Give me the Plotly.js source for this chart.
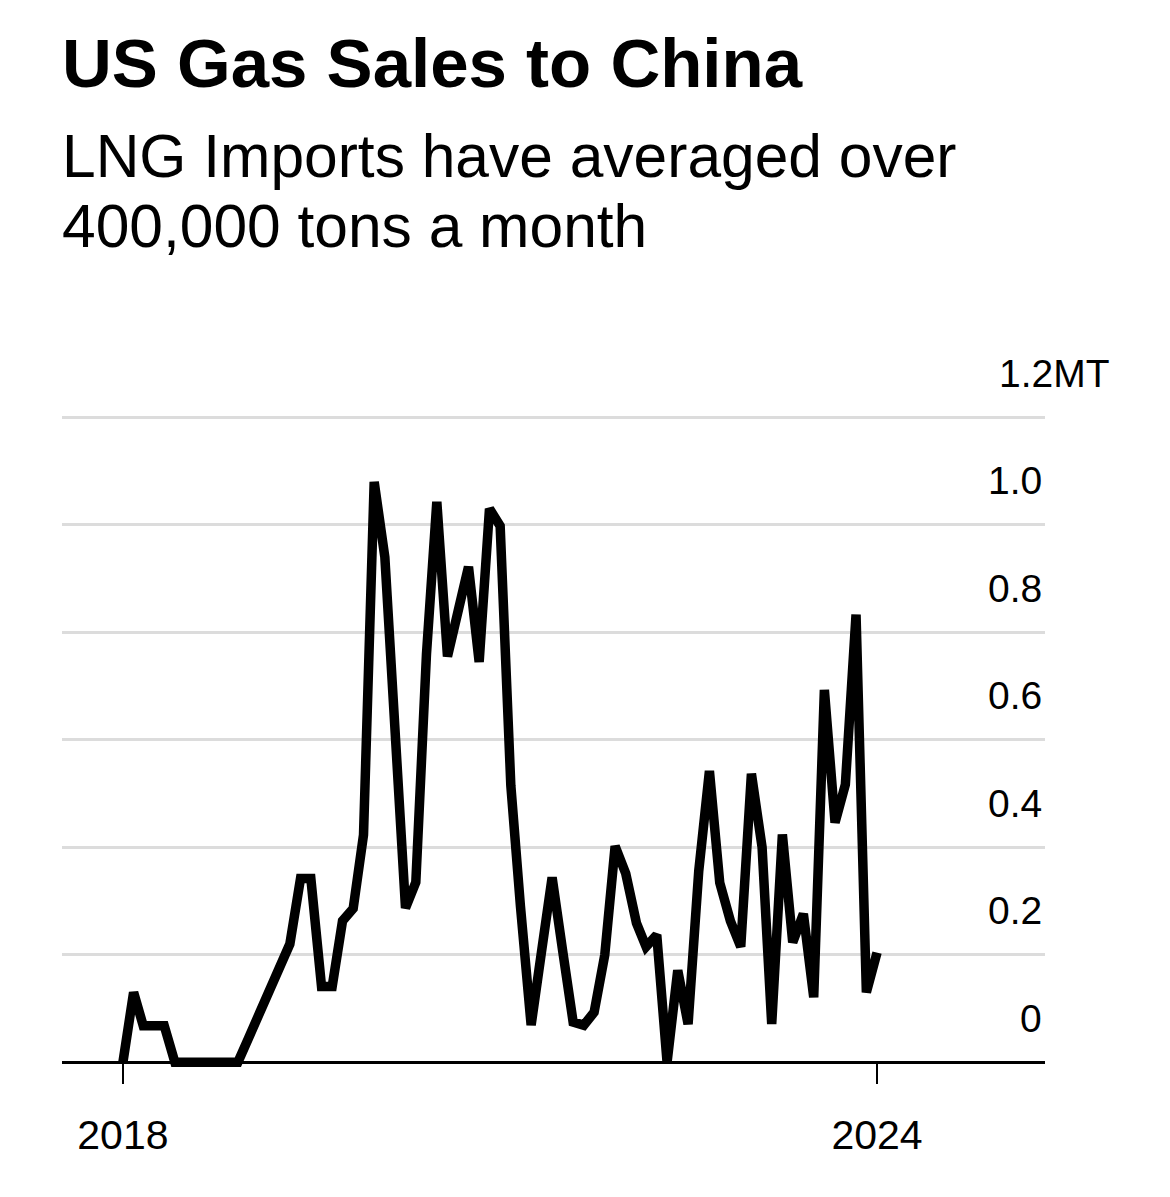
<!DOCTYPE html>
<html>
<head>
<meta charset="utf-8">
<script src="https://cdn.plot.ly/plotly-3.0.1.min.js"></script>
<style>
  html, body { margin: 0; padding: 0; background: #fff; }
  #chart { width: 1170px; height: 1197px; }
</style>
</head>
<body>
<div id="chart"></div>
<script>
// Monthly US LNG exports to China (million tons)
const months = [
  '2018-01-01','2018-02-01','2018-03-01','2018-04-01','2018-05-01','2018-06-01',
  '2018-07-01','2018-08-01','2018-09-01','2018-10-01','2018-11-01','2018-12-01',
  '2019-01-01','2019-02-01','2019-03-01','2019-04-01','2019-05-01','2019-06-01',
  '2019-07-01','2019-08-01','2019-09-01','2019-10-01','2019-11-01','2019-12-01',
  '2020-01-01','2020-02-01','2020-03-01','2020-04-01','2020-05-01','2020-06-01',
  '2020-07-01','2020-08-01','2020-09-01','2020-10-01','2020-11-01','2020-12-01',
  '2021-01-01','2021-02-01','2021-03-01','2021-04-01','2021-05-01','2021-06-01',
  '2021-07-01','2021-08-01','2021-09-01','2021-10-01','2021-11-01','2021-12-01',
  '2022-01-01','2022-02-01','2022-03-01','2022-04-01','2022-05-01','2022-06-01',
  '2022-07-01','2022-08-01','2022-09-01','2022-10-01','2022-11-01','2022-12-01',
  '2023-01-01','2023-02-01','2023-03-01','2023-04-01','2023-05-01','2023-06-01',
  '2023-07-01','2023-08-01','2023-09-01','2023-10-01','2023-11-01','2023-12-01',
  '2024-01-01'
];
const imports = [
  0, 0.13, 0.068, 0.068, 0.068, 0,
  0, 0, 0, 0, 0, 0,
  0.045, 0.09, 0.13, 0.18, 0.22, 0.342,
  0.342, 0.141, 0.141, 0.263, 0.286, 0.423,
  1.08, 0.94, 0.61, 0.287, 0.335, 0.76,
  1.043, 0.755, 0.84, 0.922, 0.745, 1.03,
  0.998, 0.515, 0.29, 0.069, 0.205, 0.344,
  0.21, 0.075, 0.069, 0.093, 0.2, 0.402,
  0.351, 0.259, 0.215, 0.237, 0, 0.171,
  0.071, 0.356, 0.542, 0.334, 0.263, 0.215,
  0.537, 0.4, 0.071, 0.424, 0.223, 0.276,
  0.121, 0.693, 0.446, 0.517, 0.833, 0.13,
  0.204
];
const yTickVals = [0, 0.2, 0.4, 0.6, 0.8, 1.0, 1.2];
const yTickText = ['0', '0.2', '0.4', '0.6', '0.8', '1.0', '1.2MT'];
const xTickVals = ['2018-01-01', '2024-01-01'];
const xTickText = ['2018', '2024'];

const titleText = 'US Gas Sales to China';
const subtitleLines = ['LNG Imports have averaged over', '400,000 tons a month'];

const FONT = 'Liberation Sans, Arial, Helvetica, sans-serif';

const trace = {
  x: months,
  y: imports,
  type: 'scatter',
  mode: 'lines',
  line: { color: '#000000', width: 9.5 },
  hoverinfo: 'skip'
};

const annotations = [];
// y-axis labels sitting above their gridlines
yTickVals.forEach((v, i) => {
  const last = i === yTickVals.length - 1;
  annotations.push({
    xref: 'paper', yref: 'y',
    x: 1, y: v,
    xanchor: last ? 'left' : 'right',
    xshift: last ? -48 : -1,
    yanchor: 'middle',
    yshift: 44,
    text: yTickText[i],
    showarrow: false,
    font: { family: FONT, size: 39, color: '#000' }
  });
});
// subtitle lines (paper coords derived from plot area top/height)
const plotTop = 412, plotH = 1197 - 412 - 124;
const subCenters = [156, 226];
subtitleLines.forEach((t, i) => {
  annotations.push({
    xref: 'paper', yref: 'paper',
    x: 0, y: 1 + (plotTop - subCenters[i]) / plotH,
    xanchor: 'left', yanchor: 'middle',
    xshift: -2,
    text: t,
    showarrow: false,
    font: { family: FONT, size: 60.5, color: '#000' }
  });
});

const layout = {
  width: 1170,
  height: 1197,
  margin: { l: 62, r: 125, t: plotTop, b: 124, pad: 0 },
  paper_bgcolor: '#ffffff',
  plot_bgcolor: '#ffffff',
  showlegend: false,
  title: {
    text: '<b>' + titleText + '</b>',
    x: 62 / 1170, xref: 'container', xanchor: 'left',
    y: 1 - 63 / 1197, yref: 'container', yanchor: 'middle',
    font: { family: FONT, size: 69, color: '#000' }
  },
  xaxis: {
    type: 'date',
    range: ['2017-07-08', '2025-05-03'],
    anchor: 'free',
    position: 0.02 / 1.23,
    showgrid: false,
    zeroline: false,
    showline: true,
    linecolor: '#000',
    linewidth: 3,
    ticks: 'outside',
    ticklen: 20,
    tickwidth: 2,
    tickcolor: '#000',
    tickmode: 'array',
    tickvals: xTickVals,
    ticktext: xTickText,
    ticklabelstandoff: 16,
    tickfont: { family: FONT, size: 41, color: '#000' },
    fixedrange: true
  },
  yaxis: {
    range: [-0.02, 1.21],
    side: 'right',
    tickmode: 'array',
    tickvals: [0.2, 0.4, 0.6, 0.8, 1.0, 1.2],
    showticklabels: false,
    ticks: '',
    showgrid: true,
    gridcolor: '#dcdcdc',
    gridwidth: 3,
    zeroline: false,
    showline: false,
    fixedrange: true
  },
  annotations: annotations
};

Plotly.newPlot('chart', [trace], layout, { displayModeBar: false, staticPlot: true });
</script>
</body>
</html>
